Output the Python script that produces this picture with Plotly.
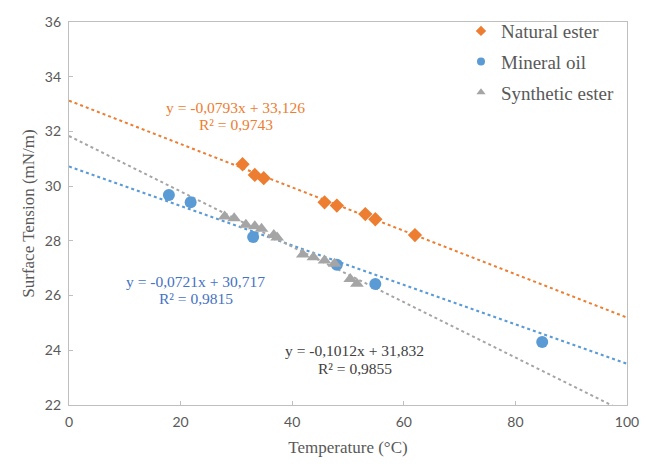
import plotly.graph_objects as go
import numpy as np

# Data
nat_x = [31.1, 33.3, 34.9, 45.8, 48.0, 53.1, 54.9, 62.0]
nat_y = [30.80, 30.41, 30.29, 29.41, 29.29, 28.98, 28.79, 28.21]

min_x = [17.9, 21.8, 33.0, 48.0, 54.9, 84.8]
min_y = [29.68, 29.41, 28.14, 27.13, 26.42, 24.30]

syn_x = [27.9, 29.6, 31.7, 33.3, 34.5, 36.7, 37.3, 41.9, 43.8, 45.8, 47.6, 50.4, 51.6]
syn_y = [28.89, 28.83, 28.59, 28.53, 28.44, 28.21, 28.12, 27.50, 27.40, 27.28, 27.16, 26.61, 26.43]

series_names = ["Natural ester", "Mineral oil", "Synthetic ester"]
slopes = [-0.0793, -0.0721, -0.1012]
intercepts = [33.126, 30.717, 31.832]
r2 = ["0,9743", "0,9815", "0,9855"]
eq_text = ["y = -0,0793x + 33,126", "y = -0,0721x + 30,717", "y = -0,1012x + 31,832"]

trend_x = [0, 100]

colors = ["#ED7D31", "#5B9BD5", "#A5A5A5"]
text_colors = ["#ED7D31", "#4472C4", "#404040"]
symbols = ["diamond", "circle", "triangle-up"]
sizes = [11, 12, 12]
legend_sizes = [8, 8, 8]

fig = go.Figure()

xs = [nat_x, min_x, syn_x]
ys = [nat_y, min_y, syn_y]

# trendlines
for i in range(3):
    tx = np.array(trend_x, dtype=float)
    ty = slopes[i] * tx + intercepts[i]
    fig.add_trace(go.Scatter(x=tx, y=ty, mode="lines",
                             line=dict(color=colors[i], width=2, dash="dot"),
                             showlegend=False, hoverinfo="skip"))

for i in range(3):
    fig.add_trace(go.Scatter(x=xs[i], y=ys[i], mode="markers", name=series_names[i],
                             legendgroup=series_names[i], showlegend=False,
                             marker=dict(color=colors[i], symbol=symbols[i], size=sizes[i],
                                         line=dict(width=0))))
    # legend entry with smaller marker
    fig.add_trace(go.Scatter(x=[None], y=[None], mode="markers", name=series_names[i],
                             legendgroup=series_names[i], showlegend=True,
                             marker=dict(color=colors[i], symbol=symbols[i], size=legend_sizes[i],
                                         line=dict(width=0))))

# label anchor positions (data coords): x centre, y of equation line, y of R² line
ann_pos = [(29.9, 32.89, 32.26), (22.7, 26.52, 25.89), (51.2, 23.98, 23.35)]
for i in range(3):
    fig.add_annotation(x=ann_pos[i][0], y=ann_pos[i][1], xref="x", yref="y",
                       text=eq_text[i], showarrow=False, borderpad=0,
                       font=dict(family="Liberation Serif", size=15.5, color=text_colors[i]))
    fig.add_annotation(x=ann_pos[i][0], y=ann_pos[i][2], xref="x", yref="y",
                       text=f"R² = {r2[i]}", showarrow=False, borderpad=0,
                       font=dict(family="Liberation Serif", size=15.5, color=text_colors[i]))

axis_common = dict(showline=True, linecolor="#BFBFBF", linewidth=1.3, mirror=True,
                   showgrid=False, zeroline=False, ticks="inside", ticklen=4,
                   tickcolor="#BFBFBF", ticklabelstandoff=4,
                   tickfont=dict(family="Lato", size=14, color="#595959"))

fig.update_layout(
    width=664, height=466,
    margin=dict(l=69, r=37, t=12, b=61),
    paper_bgcolor="white", plot_bgcolor="white",
    xaxis=dict(range=[0, 100], dtick=20, title=dict(text="Temperature (°C)", standoff=12,
               font=dict(family="Liberation Serif", size=17, color="#595959")), **axis_common),
    yaxis=dict(range=[22, 36], dtick=2, title=dict(text="Surface Tension (mN/m)", standoff=5,
               font=dict(family="Liberation Serif", size=17, color="#595959")), **axis_common),
    legend=dict(x=0.7025, y=1.026, xanchor="left", yanchor="top",
                font=dict(family="Liberation Serif", size=19, color="#595959"),
                tracegroupgap=3, bgcolor="rgba(0,0,0,0)"),
    showlegend=True,
)

fig.write_html("out.html")
